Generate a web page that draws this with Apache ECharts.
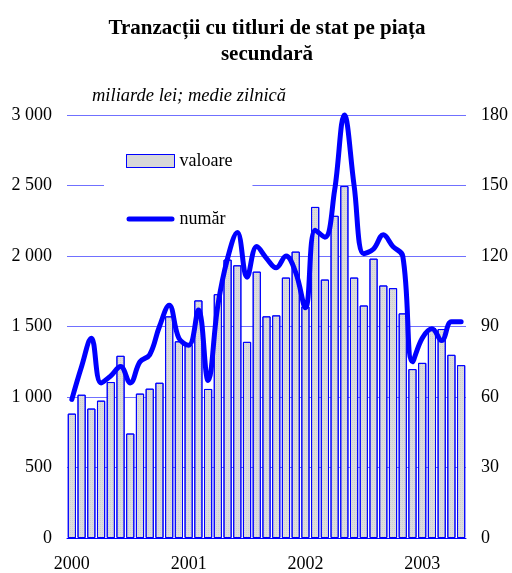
<!DOCTYPE html>
<html>
<head>
<meta charset="utf-8">
<script src="https://cdn.jsdelivr.net/npm/echarts@6/dist/echarts.min.js"></script>
<style>
  html, body { margin: 0; padding: 0; background: #ffffff; }
  #chart { width: 512px; height: 573px; }
</style>
</head>
<body>
<div id="chart"></div>
<script>
// luni ian 2000 - mai 2003
const years = ["2000", "2001", "2002", "2003"];
const months = [];
for (let y = 0; y < years.length; y++) {
  for (let m = 1; m <= 12; m++) {
    if (y === 3 && m > 5) break;
    months.push(years[y] + "-" + m);
  }
}

// miliarde lei; medie zilnica
const valoare = [
  882, 1016, 918, 974, 1106, 1292, 741, 1024, 1059, 1101, 1572, 1395,
  1369, 1685, 1057, 1729, 1974, 1934, 1391, 1889, 1572, 1579, 1847, 2031,
  1642, 2348, 1833, 2285, 2496, 1847, 1649, 1981, 1791, 1772, 1593, 1198,
  1242, 1489, 1482, 1299, 1226
];

const numar = [
  59, 73, 85, 66, 69, 73, 66, 75, 78, 90, 99, 85,
  82, 97, 67, 99, 119, 130, 111, 124, 119, 115, 120, 113,
  98, 131, 128, 148, 180, 150, 121, 123, 129, 124, 120, 75,
  85, 89, 84, 92, 92
];

const leftTicks = { min: 0, max: 3000, interval: 500 };
const rightTicks = { min: 0, max: 180, interval: 30 };

const serif = "'Liberation Serif', 'DejaVu Serif', serif";
const blue = "#0000ff";
const gridBlue = "#7070ff";

const chart = echarts.init(document.getElementById("chart"));

const option = {
  backgroundColor: "#ffffff",
  animation: false,
  title: [
    {
      text: "Tranzacții cu titluri de stat pe piața\nsecundară",
      left: 262,
      top: 11,
      textAlign: "center",
      textStyle: {
        fontFamily: serif,
        fontSize: 21,
        fontWeight: "bold",
        color: "#000",
        lineHeight: 26,
      },
    },
    {
      text: "miliarde lei; medie zilnică",
      left: 87,
      top: 82,
      textStyle: {
        fontFamily: serif,
        fontSize: 18.5,
        fontStyle: "italic",
        fontWeight: "normal",
        color: "#000",
      },
    },
  ],
  legend: {
    orient: "vertical",
    left: 104,
    top: 138,
    padding: [14, 20, 14, 22],
    backgroundColor: "#ffffff",
    itemWidth: 48,
    itemHeight: 13,
    itemGap: 40,
    textStyle: { fontFamily: serif, fontSize: 18, color: "#000" },
    data: [
      { name: "valoare", icon: "rect", itemStyle: { borderWidth: 1 } },
      {
        name: "număr",
        icon: "path://M2.5,0 L45.5,0 A2.5,2.5 0 0 1 45.5,5 L2.5,5 A2.5,2.5 0 0 1 2.5,0 Z",
      },
    ],
  },
  grid: { left: 67, right: 46, top: 115, bottom: 33 },
  xAxis: {
    type: "category",
    data: months,
    axisLine: { show: true, lineStyle: { color: blue, width: 1 } },
    axisTick: { show: false },
    axisLabel: {
      interval: 11,
      formatter: (v) => v.split("-")[0],
      fontFamily: serif,
      fontSize: 18,
      color: "#000",
      margin: 17,
    },
  },
  yAxis: [
    {
      type: "value",
      ...leftTicks,
      axisLine: { show: false },
      axisTick: { show: false },
      splitLine: { show: true, lineStyle: { color: gridBlue, width: 1 } },
      axisLabel: {
        formatter: (v) => String(v).replace(/\B(?=(\d{3})+(?!\d))/g, " "),
        fontFamily: serif,
        fontSize: 18,
        color: "#000",
        margin: 15,
      },
    },
    {
      type: "value",
      ...rightTicks,
      position: "right",
      axisLine: { show: false },
      axisTick: { show: false },
      splitLine: { show: false },
      axisLabel: {
        fontFamily: serif,
        fontSize: 18,
        color: "#000",
        margin: 15,
      },
    },
  ],
  series: [
    {
      name: "valoare",
      type: "bar",
      yAxisIndex: 0,
      data: valoare,
      barCategoryGap: "16%",
      itemStyle: {
        color: "#dcdcdc",
        borderColor: blue,
        borderWidth: 1,
        decal: {
          symbol: "rect",
          symbolSize: 0.5,
          color: "rgba(110,110,110,0.45)",
          dashArrayX: [1, 1],
          dashArrayY: [1, 1],
          rotation: 0,
        },
      },
    },
    {
      name: "număr",
      type: "line",
      yAxisIndex: 1,
      data: numar,
      smooth: 0.4,
      symbol: "none",
      z: 5,
      clip: false,
      lineStyle: { color: blue, width: 5, cap: "round", join: "round" },
      itemStyle: { color: blue },
    },
  ],
};

chart.setOption(option);
</script>
</body>
</html>
